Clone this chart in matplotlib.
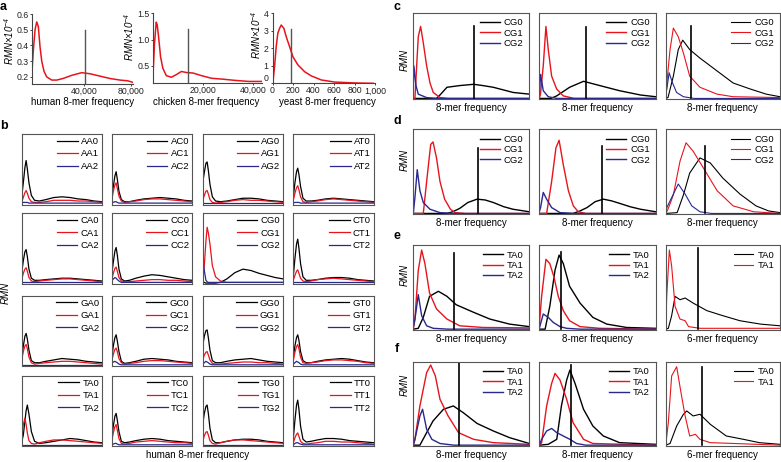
import matplotlib
matplotlib.use('Agg')
import matplotlib.pyplot as plt

plt.rcParams['font.family'] = ['Liberation Sans', 'DejaVu Sans']
plt.rcParams['mathtext.fontset'] = 'custom'
plt.rcParams['mathtext.it'] = 'Liberation Sans:italic'
plt.rcParams['mathtext.rm'] = 'Liberation Sans:italic'

W, H = 781, 462
RED = '#e8141c'
BLUE = '#28288f'

# ---- panel a: whole-genome 8-mer frequency distributions ----
HUMAN_X = [-4255, -3150, -1700, -255, 1100, 2550, 4000, 5960, 8250, 12500, 16800,
           22100, 29500, 38000, 45100, 53600, 62100, 70600, 77400, 81700]
HUMAN_Y = [0.244, 0.37, 0.50, 0.55, 0.52, 0.39, 0.30, 0.235, 0.20, 0.18, 0.18,
           0.19, 0.21, 0.227, 0.22, 0.205, 0.19, 0.18, 0.175, 0.165]
CHICKEN_X = [120, 800, 1480, 1880, 2400, 3200, 4120, 5480, 7480, 9480, 11480,
             13480, 16120, 19480, 23480, 27480, 32800, 38120, 43480]
CHICKEN_Y = [0.23, 0.93, 1.33, 1.28, 1.06, 0.67, 0.45, 0.31, 0.28, 0.33, 0.39,
             0.37, 0.36, 0.31, 0.26, 0.245, 0.22, 0.20, 0.20]
YEAST_X = [3, 20, 36, 52, 69, 85, 111, 134, 167, 199, 248, 314, 379, 477, 608, 804, 983]
YEAST_Y = [0, 0.95, 2.09, 2.86, 3.14, 3.33, 3.14, 2.66, 2.09, 1.52, 1.05, 0.66,
           0.42, 0.19, 0.07, 0.02, 0.0]
A_MEDIAN = [40900, 14000, 183]
A_MEDIAN_TOP = [0.5, 1.2, 3.09]
A_XLABELS = ['human 8-mer frequency', 'chicken 8-mer frequency', 'yeast 8-mer frequency']

# ---- panel b: human, split by dinucleotide count (0/1/2) ----
X_B = [0, .02, .04, .055, .07, .09, .12, .16, .22, .3, .4, .5, .6, .7, .8, .9, 1.0]
LOW = [0.01] * 17
B_AA = [[0.10, 0.30, 0.52, 0.62, 0.50, 0.30, 0.12, 0.05, 0.04, 0.06, 0.09, 0.10, 0.09, 0.07, 0.06, 0.04, 0.03],
        [0.03, 0.09, 0.16, 0.19, 0.15, 0.08, 0.03, 0.02, 0.02, 0.03, 0.05, 0.05, 0.05, 0.04, 0.04, 0.03, 0.02],
        [0.01, 0.02, 0.02, 0.02, 0.02, 0.01, 0.01, 0.01, 0.01, 0.01, 0.01, 0.01, 0.01, 0.01, 0.01, 0.01, 0.01]]
B_AC = [[0.08, 0.25, 0.40, 0.46, 0.35, 0.18, 0.06, 0.03, 0.03, 0.05, 0.07, 0.08, 0.09, 0.08, 0.07, 0.05, 0.04],
        [0.05, 0.18, 0.27, 0.30, 0.22, 0.11, 0.04, 0.02, 0.03, 0.04, 0.06, 0.07, 0.07, 0.06, 0.05, 0.04, 0.03],
        [0.01, 0.02, 0.03, 0.03, 0.02, 0.01, 0.01, 0.01, 0.01, 0.01, 0.01, 0.01, 0.01, 0.01, 0.01, 0.01, 0.01]]
B_AG = [[0.30, 0.45, 0.58, 0.60, 0.48, 0.28, 0.10, 0.04, 0.03, 0.04, 0.06, 0.08, 0.08, 0.07, 0.05, 0.04, 0.03],
        [0.05, 0.12, 0.18, 0.19, 0.14, 0.06, 0.02, 0.01, 0.02, 0.03, 0.05, 0.06, 0.05, 0.05, 0.04, 0.03, 0.02],
        LOW]
B_AT = [[0.10, 0.30, 0.46, 0.51, 0.42, 0.25, 0.08, 0.04, 0.04, 0.05, 0.07, 0.08, 0.07, 0.06, 0.05, 0.04, 0.03],
        [0.05, 0.15, 0.23, 0.26, 0.20, 0.10, 0.03, 0.02, 0.03, 0.04, 0.06, 0.07, 0.06, 0.05, 0.04, 0.03, 0.02],
        [0.01, 0.02, 0.02, 0.02, 0.02, 0.01, 0.01, 0.01, 0.01, 0.01, 0.01, 0.01, 0.01, 0.01, 0.01, 0.01, 0.01]]
B_CA = [[0.15, 0.32, 0.45, 0.48, 0.38, 0.20, 0.07, 0.04, 0.04, 0.05, 0.06, 0.07, 0.07, 0.06, 0.05, 0.04, 0.03],
        [0.05, 0.14, 0.20, 0.22, 0.17, 0.08, 0.03, 0.02, 0.03, 0.04, 0.05, 0.06, 0.06, 0.05, 0.04, 0.03, 0.02],
        LOW]
B_CC = [[0.12, 0.30, 0.46, 0.51, 0.40, 0.20, 0.06, 0.03, 0.04, 0.07, 0.10, 0.12, 0.11, 0.09, 0.07, 0.05, 0.04],
        [0.05, 0.14, 0.21, 0.23, 0.17, 0.08, 0.03, 0.02, 0.02, 0.03, 0.04, 0.05, 0.05, 0.04, 0.04, 0.03, 0.02],
        [0.03, 0.06, 0.08, 0.07, 0.05, 0.03, 0.01, 0.01, 0.01, 0.01, 0.01, 0.01, 0.01, 0.01, 0.01, 0.01, 0.01]]
B_CG = [[0.01, 0.01, 0.0, 0.0, 0.0, 0.0, 0.0, 0.0, 0.01, 0.06, 0.15, 0.20, 0.18, 0.14, 0.11, 0.08, 0.06],
        [0.03, 0.25, 0.60, 0.80, 0.72, 0.56, 0.25, 0.09, 0.03, 0.01, 0.01, 0.01, 0.01, 0.01, 0.01, 0.01, 0.01],
        [0.33, 0.18, 0.04, 0.02, 0.01, 0.01, 0.01, 0.01, 0.01, 0.01, 0.01, 0.01, 0.01, 0.01, 0.01, 0.01, 0.01]]
B_CT = [[0.10, 0.35, 0.56, 0.63, 0.50, 0.28, 0.09, 0.04, 0.04, 0.05, 0.07, 0.08, 0.08, 0.07, 0.05, 0.04, 0.03],
        [0.04, 0.11, 0.17, 0.19, 0.14, 0.07, 0.03, 0.02, 0.03, 0.05, 0.06, 0.07, 0.06, 0.05, 0.04, 0.03, 0.02],
        LOW]
B_GA = [[0.10, 0.28, 0.42, 0.46, 0.38, 0.22, 0.07, 0.04, 0.04, 0.06, 0.08, 0.10, 0.09, 0.08, 0.06, 0.05, 0.04],
        [0.08, 0.20, 0.28, 0.30, 0.24, 0.12, 0.04, 0.02, 0.03, 0.04, 0.05, 0.06, 0.06, 0.05, 0.04, 0.03, 0.02],
        LOW]
B_GC = [[0.10, 0.28, 0.40, 0.44, 0.35, 0.20, 0.06, 0.03, 0.04, 0.06, 0.09, 0.10, 0.09, 0.08, 0.06, 0.05, 0.04],
        [0.06, 0.16, 0.23, 0.25, 0.20, 0.10, 0.04, 0.02, 0.03, 0.04, 0.06, 0.07, 0.07, 0.06, 0.05, 0.04, 0.03],
        [0.03, 0.05, 0.06, 0.05, 0.04, 0.02, 0.01, 0.01, 0.01, 0.01, 0.01, 0.01, 0.01, 0.01, 0.01, 0.01, 0.01]]
B_GG = [[0.28, 0.42, 0.50, 0.51, 0.40, 0.22, 0.07, 0.04, 0.04, 0.06, 0.08, 0.09, 0.10, 0.08, 0.06, 0.05, 0.04],
        [0.08, 0.15, 0.19, 0.20, 0.15, 0.08, 0.03, 0.02, 0.02, 0.03, 0.04, 0.05, 0.05, 0.04, 0.04, 0.03, 0.02],
        [0.02, 0.04, 0.06, 0.05, 0.04, 0.02, 0.01, 0.01, 0.01, 0.01, 0.01, 0.01, 0.01, 0.01, 0.01, 0.01, 0.01]]
B_GT = [[0.10, 0.28, 0.40, 0.44, 0.36, 0.20, 0.07, 0.04, 0.04, 0.06, 0.08, 0.09, 0.10, 0.09, 0.07, 0.05, 0.04],
        [0.07, 0.19, 0.27, 0.30, 0.24, 0.12, 0.04, 0.03, 0.04, 0.05, 0.07, 0.08, 0.08, 0.07, 0.06, 0.04, 0.03],
        [0.02, 0.04, 0.06, 0.05, 0.04, 0.02, 0.01, 0.01, 0.01, 0.01, 0.01, 0.01, 0.01, 0.01, 0.01, 0.01, 0.01]]
B_TA = [[0.05, 0.15, 0.35, 0.50, 0.58, 0.45, 0.20, 0.06, 0.03, 0.04, 0.06, 0.08, 0.10, 0.09, 0.07, 0.05, 0.04],
        [0.10, 0.30, 0.39, 0.30, 0.18, 0.07, 0.03, 0.02, 0.04, 0.06, 0.08, 0.08, 0.07, 0.06, 0.05, 0.04, 0.03],
        LOW]
B_TC = [[0.10, 0.28, 0.42, 0.46, 0.36, 0.20, 0.06, 0.04, 0.05, 0.07, 0.09, 0.10, 0.09, 0.07, 0.06, 0.05, 0.04],
        [0.06, 0.18, 0.27, 0.30, 0.22, 0.10, 0.03, 0.02, 0.03, 0.05, 0.06, 0.07, 0.06, 0.05, 0.04, 0.04, 0.03],
        [0.01, 0.02, 0.03, 0.03, 0.02, 0.01, 0.01, 0.01, 0.01, 0.01, 0.01, 0.01, 0.01, 0.01, 0.01, 0.01, 0.01]]
B_TG = [[0.30, 0.46, 0.56, 0.58, 0.46, 0.25, 0.08, 0.04, 0.04, 0.06, 0.08, 0.09, 0.09, 0.08, 0.06, 0.05, 0.04],
        [0.06, 0.14, 0.19, 0.20, 0.15, 0.07, 0.03, 0.02, 0.04, 0.06, 0.08, 0.08, 0.07, 0.06, 0.05, 0.04, 0.03],
        LOW]
B_TT = [[0.10, 0.36, 0.58, 0.65, 0.52, 0.28, 0.09, 0.05, 0.06, 0.08, 0.10, 0.10, 0.09, 0.07, 0.06, 0.05, 0.04],
        [0.04, 0.11, 0.16, 0.18, 0.13, 0.06, 0.03, 0.02, 0.03, 0.04, 0.06, 0.06, 0.05, 0.05, 0.04, 0.03, 0.02],
        [0.01, 0.03, 0.04, 0.04, 0.03, 0.02, 0.01, 0.01, 0.01, 0.01, 0.01, 0.01, 0.01, 0.01, 0.01, 0.01, 0.01]]
B_NAMES = ['AA', 'AC', 'AG', 'AT', 'CA', 'CC', 'CG', 'CT',
           'GA', 'GC', 'GG', 'GT', 'TA', 'TC', 'TG', 'TT']
B_DATA = [B_AA, B_AC, B_AG, B_AT, B_CA, B_CC, B_CG, B_CT,
          B_GA, B_GC, B_GG, B_GT, B_TA, B_TC, B_TG, B_TT]

# ---- panels c-f: (x fraction, RMN) points for count 0 / 1 / 2 ----
C1_0 = [(0, 0), (0.2, 0.0), (0.23, 0.04), (0.29, 0.13), (0.4, 0.15), (0.52, 0.165), (0.6, 0.15), (0.69, 0.13), (0.86, 0.07), (1.0, 0.05)]
C1_1 = [(0, 0), (0.014, 0.0), (0.029, 0.38), (0.043, 0.72), (0.063, 0.84), (0.086, 0.65), (0.115, 0.38), (0.144, 0.18), (0.172, 0.07), (0.23, 0.01), (0.3, 0.0), (1.0, 0.0)]
C1_2 = [(0, 0.1), (0.005, 0.38), (0.023, 0.15), (0.043, 0.05), (0.115, 0.01), (0.2, 0.0), (1.0, 0.0)]
C2_0 = [(0, 0), (0.1, 0.0), (0.15, 0.03), (0.26, 0.13), (0.38, 0.2), (0.52, 0.15), (0.69, 0.09), (0.87, 0.04), (1.0, 0.02)]
C2_1 = [(0, 0), (0.01, 0.05), (0.034, 0.38), (0.057, 0.84), (0.077, 0.57), (0.106, 0.26), (0.149, 0.11), (0.206, 0.03), (0.3, 0.0), (1.0, 0.0)]
C2_2 = [(0, 0.05), (0.011, 0.28), (0.034, 0.09), (0.077, 0.02), (0.15, 0.0), (1.0, 0.0)]
C3_0 = [(0, 0), (0.02, 0.01), (0.067, 0.26), (0.11, 0.57), (0.149, 0.68), (0.21, 0.57), (0.3, 0.47), (0.45, 0.32), (0.59, 0.18), (0.74, 0.11), (0.88, 0.05), (1.0, 0.02)]
C3_1 = [(0, 0), (0.01, 0.18), (0.038, 0.57), (0.067, 0.82), (0.11, 0.72), (0.155, 0.53), (0.21, 0.26), (0.3, 0.13), (0.45, 0.05), (0.59, 0.02), (1.0, 0.01)]
C3_2 = [(0, 0.05), (0.01, 0.11), (0.03, 0.3), (0.06, 0.18), (0.095, 0.07), (0.155, 0.02), (0.25, 0.0), (1.0, 0.0)]

D1_0 = [(0, 0), (0.29, 0.0), (0.34, 0.02), (0.4, 0.06), (0.47, 0.13), (0.55, 0.17), (0.62, 0.16), (0.69, 0.13), (0.78, 0.08), (0.86, 0.05), (1.0, 0.02)]
D1_1 = [(0, 0), (0.086, 0.0), (0.115, 0.38), (0.15, 0.82), (0.17, 0.85), (0.2, 0.66), (0.23, 0.38), (0.27, 0.17), (0.32, 0.05), (0.36, 0.01), (0.45, 0.0), (1, 0)]
D1_2 = [(0, 0), (0.014, 0.19), (0.034, 0.52), (0.057, 0.27), (0.086, 0.13), (0.144, 0.05), (0.23, 0.01), (0.35, 0.0), (1.0, 0.0)]
D2_0 = [(0, 0), (0.29, 0.0), (0.35, 0.03), (0.41, 0.07), (0.48, 0.14), (0.55, 0.17), (0.62, 0.15), (0.69, 0.12), (0.78, 0.08), (0.87, 0.05), (1.0, 0.02)]
D2_1 = [(0, 0), (0.063, 0.0), (0.106, 0.38), (0.143, 0.78), (0.17, 0.87), (0.206, 0.58), (0.25, 0.27), (0.292, 0.09), (0.335, 0.02), (0.4, 0.0), (1, 0)]
D2_2 = [(0, 0.02), (0.011, 0.07), (0.034, 0.25), (0.063, 0.17), (0.106, 0.07), (0.178, 0.01), (0.3, 0.0), (1.0, 0.0)]
D3_0 = [(0, 0), (0.1, 0.01), (0.155, 0.22), (0.21, 0.48), (0.3, 0.66), (0.39, 0.6), (0.5, 0.42), (0.65, 0.23), (0.79, 0.09), (0.9, 0.03), (1.0, 0.01)]
D3_1 = [(0, 0), (0.02, 0.05), (0.067, 0.22), (0.125, 0.62), (0.178, 0.84), (0.24, 0.74), (0.33, 0.54), (0.45, 0.27), (0.59, 0.09), (0.77, 0.02), (1.0, 0.0)]
D3_2 = [(0, 0.02), (0.01, 0.07), (0.067, 0.23), (0.11, 0.35), (0.17, 0.23), (0.228, 0.09), (0.3, 0.02), (0.4, 0.0), (1, 0)]

E1_0 = [(0, 0), (0.043, 0.01), (0.086, 0.14), (0.14, 0.39), (0.216, 0.45), (0.29, 0.39), (0.37, 0.29), (0.52, 0.2), (0.66, 0.12), (0.83, 0.06), (1.0, 0.03)]
E1_1 = [(0, 0), (0.014, 0.12), (0.043, 0.7), (0.072, 0.94), (0.1, 0.78), (0.14, 0.43), (0.2, 0.24), (0.29, 0.12), (0.4, 0.04), (0.6, 0.02), (1.0, 0.015)]
E1_2 = [(0, 0.02), (0.014, 0.12), (0.043, 0.41), (0.072, 0.16), (0.115, 0.04), (0.172, 0.01), (0.3, 0.0), (1, 0)]
E2_0 = [(0, 0), (0.05, 0.0), (0.09, 0.27), (0.135, 0.7), (0.17, 0.88), (0.206, 0.78), (0.26, 0.51), (0.35, 0.31), (0.46, 0.14), (0.58, 0.06), (0.75, 0.02), (1.0, 0.01)]
E2_1 = [(0, 0.05), (0.02, 0.39), (0.057, 0.83), (0.09, 0.78), (0.126, 0.62), (0.163, 0.39), (0.206, 0.22), (0.26, 0.1), (0.35, 0.03), (0.52, 0.01), (1, 0.0)]
E2_2 = [(0, 0.01), (0.006, 0.04), (0.034, 0.18), (0.077, 0.14), (0.12, 0.08), (0.178, 0.03), (0.235, 0.01), (0.35, 0.0), (1, 0)]
E3_0 = [(0, 0), (0.023, 0.01), (0.052, 0.16), (0.082, 0.39), (0.125, 0.35), (0.17, 0.37), (0.24, 0.31), (0.36, 0.22), (0.5, 0.16), (0.65, 0.1), (0.83, 0.06), (1.0, 0.04)]
E3_1 = [(0, 0), (0.009, 0.39), (0.032, 0.94), (0.052, 0.75), (0.082, 0.27), (0.125, 0.12), (0.17, 0.1), (0.2, 0.03), (0.3, 0.01), (1.0, 0.01)]

F1_0 = [(0, 0), (0.057, 0.0), (0.115, 0.15), (0.17, 0.29), (0.26, 0.43), (0.345, 0.47), (0.43, 0.39), (0.55, 0.26), (0.69, 0.17), (0.83, 0.09), (1.0, 0.02)]
F1_1 = [(0, 0), (0.014, 0.07), (0.057, 0.47), (0.115, 0.87), (0.15, 0.96), (0.19, 0.83), (0.23, 0.55), (0.3, 0.35), (0.39, 0.15), (0.52, 0.07), (0.69, 0.03), (1.0, 0.01)]
F1_2 = [(0, 0), (0.014, 0.07), (0.057, 0.35), (0.08, 0.43), (0.115, 0.19), (0.16, 0.07), (0.23, 0.02), (0.35, 0.0), (1, 0)]
F2_0 = [(0, 0), (0.077, 0.01), (0.15, 0.07), (0.19, 0.47), (0.235, 0.78), (0.263, 0.9), (0.307, 0.74), (0.38, 0.43), (0.46, 0.23), (0.55, 0.11), (0.69, 0.03), (1.0, 0.01)]
F2_1 = [(0, 0), (0.02, 0.03), (0.063, 0.47), (0.106, 0.74), (0.135, 0.86), (0.178, 0.78), (0.235, 0.55), (0.29, 0.27), (0.38, 0.07), (0.46, 0.02), (1.0, 0.0)]
F2_2 = [(0, 0), (0.02, 0.07), (0.063, 0.17), (0.106, 0.2), (0.15, 0.15), (0.206, 0.11), (0.263, 0.07), (0.32, 0.02), (0.4, 0.0), (1, 0)]
F3_0 = [(0, 0), (0.038, 0.02), (0.096, 0.23), (0.155, 0.37), (0.184, 0.41), (0.24, 0.35), (0.3, 0.37), (0.39, 0.25), (0.53, 0.11), (0.68, 0.07), (0.82, 0.03), (1.0, 0.01)]
F3_1 = [(0, 0), (0.023, 0.27), (0.052, 0.83), (0.096, 0.94), (0.13, 0.66), (0.17, 0.35), (0.21, 0.11), (0.26, 0.13), (0.3, 0.07), (0.39, 0.03), (0.6, 0.02), (1.0, 0.0)]

# median line (x, top) for each sub-panel
MED_C = [(0.523, 0.84), (0.40, 0.83), (0.22, 0.84)]
MED_D = [(0.555, 0.78), (0.54, 0.80), (0.347, 0.80)]
MED_E = [(0.353, 0.90), (0.19, 0.92), (0.28, 0.96)]
MED_F = [(0.39, 0.99), (0.27, 0.96), (0.315, 0.94)]


def px(l, t, r, b):
    return [l / W, 1 - b / H, (r - l) / W, (b - t) / H]


def box_style(ax):
    ax.set_xticks([])
    ax.set_yticks([])
    for s in ax.spines.values():
        s.set_color('#555555')
        s.set_linewidth(0.8)


fig = plt.figure(figsize=(W / 100, H / 100), dpi=100)

# panel a
a_boxes = [(32, 14, 133, 84), (152.5, 13.3, 262, 83), (272.5, 13.3, 375, 83.3)]
a_series = [(HUMAN_X, HUMAN_Y), (CHICKEN_X, CHICKEN_Y), (YEAST_X, YEAST_Y)]
a_xlim = [(-4300, 81700), (0, 43500), (0, 1000)]
a_ylim = [(0.155, 0.6), (0.17, 1.5), (0, 4)]
a_xt = [([40000, 80000], ['40,000', '80,000']), ([20000, 40000], ['20,000', '40,000']),
        ([0, 200, 400, 600, 800, 1000], ['0', '200', '400', '600', '800', '1,000'])]
a_yt = [([0.2, 0.3, 0.4, 0.5, 0.6], ['0.2', '0.3', '0.4', '0.5', '0.6']),
        ([0.5, 1.0, 1.5], ['0.5', '1.0', '1.5']), ([0, 1, 2, 3, 4], ['0', '1', '2', '3', '4'])]
a_ylab = [(9, 41), (129, 37), (256, 35)]
a_xlab = [83, 206, 327]
for i in range(3):
    ax = fig.add_axes(px(*a_boxes[i]))
    ax.plot(a_series[i][0], a_series[i][1], color=RED, lw=1.1)
    ax.plot([A_MEDIAN[i]] * 2, [a_ylim[i][0], A_MEDIAN_TOP[i]], color='#555555', lw=1.0)
    ax.set_xlim(*a_xlim[i])
    ax.set_ylim(*a_ylim[i])
    ax.set_xticks(a_xt[i][0], a_xt[i][1])
    ax.set_yticks(a_yt[i][0], a_yt[i][1])
    ax.tick_params(labelsize=6.3, length=1.5, pad=0.8, width=0.6, colors='#222222')
    if i == 2:
        ax.tick_params(axis='y', pad=1.5)
        # keep the corner "0" of the y axis clear of the x axis labels
        ax.get_yticklabels()[0].set_verticalalignment('bottom')
    for s in ['top', 'right']:
        ax.spines[s].set_visible(False)
    for s in ['left', 'bottom']:
        ax.spines[s].set_linewidth(0.8)
        ax.spines[s].set_color('#444444')
    fig.text(a_ylab[i][0] / W, 1 - a_ylab[i][1] / H, r'$RMN{\times}10^{-4}$',
             rotation=90, ha='center', va='center', fontsize=7)
    fig.text(a_xlab[i] / W, 1 - 102 / H, A_XLABELS[i], ha='center', va='center', fontsize=7)

# panel b
b_left = [21.7, 111.7, 202.7, 293.3]
b_top = [134, 213.3, 295.7, 375.7]
for i, name in enumerate(B_NAMES):
    r, c = divmod(i, 4)
    ax = fig.add_axes(px(b_left[c], b_top[r], b_left[c] + 80.5, b_top[r] + 70.5))
    for vals, col, k in zip(B_DATA[i], ['black', RED, BLUE], range(3)):
        ax.plot(X_B, vals, color=col, lw=0.9, label=f'{name}{k}')
    ax.set_xlim(0, 1)
    ax.set_ylim(-0.01, 1)
    box_style(ax)
    ax.legend(loc='upper right', frameon=False, fontsize=6.8, handlelength=2.2,
              handletextpad=0.35, labelspacing=0.38, borderaxespad=0.1, borderpad=0.2)
fig.text(6 / W, 1 - 293 / H, 'RMN', rotation=90, ha='center', va='center', fontsize=7, style='italic')
fig.text(198 / W, 1 - 455 / H, 'human 8-mer frequency', ha='center', va='center', fontsize=7)

# panels c-f
cf_left = [413.3, 539.3, 665.7]
cf_right = [529.3, 655.7, 780]
cf_rows = [(12.7, 99.3), (129.3, 214.3), (245, 330), (361.7, 446)]
cf_curves = [[[C1_0, C1_1, C1_2], [C2_0, C2_1, C2_2], [C3_0, C3_1, C3_2]],
             [[D1_0, D1_1, D1_2], [D2_0, D2_1, D2_2], [D3_0, D3_1, D3_2]],
             [[E1_0, E1_1, E1_2], [E2_0, E2_1, E2_2], [E3_0, E3_1]],
             [[F1_0, F1_1, F1_2], [F2_0, F2_1, F2_2], [F3_0, F3_1]]]
cf_meds = [MED_C, MED_D, MED_E, MED_F]
cf_prefix = ['CG', 'CG', 'TA', 'TA']
cf_xlab = [['8-mer frequency'] * 3, ['8-mer frequency'] * 3,
           ['8-mer frequency', '8-mer frequency', '6-mer frequency'],
           ['8-mer frequency', '8-mer frequency', '6-mer frequency']]
cf_ylab = [60, 160, 275, 385]
for r in range(4):
    t, b = cf_rows[r]
    for c in range(3):
        ax = fig.add_axes(px(cf_left[c], t, cf_right[c], b))
        thin = (c == 2)
        for k, pts in enumerate(cf_curves[r][c]):
            xs = [p[0] for p in pts]
            ys = [p[1] for p in pts]
            ax.plot(xs, ys, color=['black', RED, BLUE][k], lw=0.8 if thin else 1.0,
                    label=f'{cf_prefix[r]}{k}')
        mx, mt = cf_meds[r][c]
        ax.plot([mx, mx], [0, mt], color='black', lw=1.2)
        ax.set_xlim(0, 1)
        ax.set_ylim(-0.01, 1)
        box_style(ax)
        ax.legend(loc='upper right', frameon=False, fontsize=6.8, handlelength=2.1,
                  handletextpad=0.45, labelspacing=0.15, borderaxespad=0.3, borderpad=0.3)
        fig.text((cf_left[c] + cf_right[c]) / 2 / W, 1 - (b + 9) / H, cf_xlab[r][c],
                 ha='center', va='center', fontsize=7)
    fig.text(405 / W, 1 - cf_ylab[r] / H, 'RMN', rotation=90, ha='center', va='center',
             fontsize=7, style='italic')

# panel letters
for lab, x, y in [('a', 3, 0.5), ('b', 4, 120), ('c', 397, 0.5), ('d', 397, 115),
                  ('e', 397, 230), ('f', 397, 343)]:
    fig.text(x / W, 1 - y / H, lab, ha='center', va='top', fontsize=9, fontweight='bold')

fig.savefig('out.png', dpi=100)
